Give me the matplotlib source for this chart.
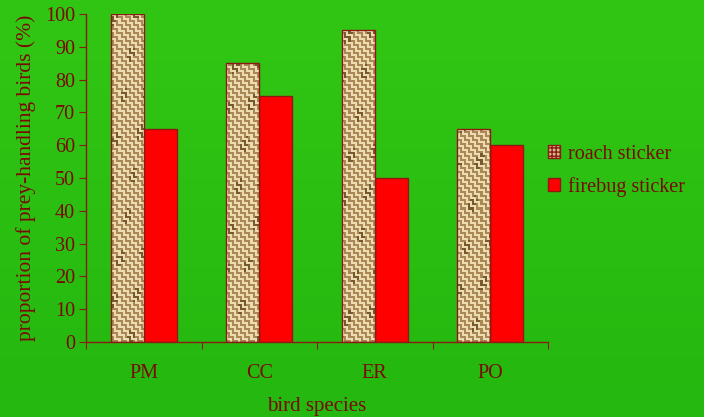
import numpy as np
import matplotlib
matplotlib.use('Agg')
import matplotlib.pyplot as plt
from matplotlib.patches import Patch

# data
species = ['PM', 'CC', 'ER', 'PO']
roach = [100, 85, 95, 65]
firebug = [65, 75, 50, 60]
yticks = list(range(0, 101, 10))

text_col = '#7a0a00'
edge_col = '#8b1a10'

plt.rcParams['font.family'] = ['Liberation Serif', 'DejaVu Serif']
plt.rcParams['font.size'] = 14.5

fig = plt.figure(figsize=(7.04, 4.17), dpi=100)

# green gradient background
bg = fig.add_axes([0, 0, 1, 1], zorder=-10)
grad = np.linspace(0, 1, 256)[:, None]
top = np.array([50, 198, 20]) / 255
bot = np.array([36, 184, 16]) / 255
img = top[None, None, :] * (1 - grad[:, :, None]) + bot[None, None, :] * grad[:, :, None]
bg.imshow(img, aspect='auto', extent=[0, 1, 0, 1])
bg.axis('off')

ax = fig.add_axes([0.1222, 0.1799, 0.6562, 0.7865])
ax.set_facecolor('none')

x = np.arange(len(species))
w = 0.286

bars_r = ax.bar(x - w / 2, roach, w, facecolor='#d2ba8c', edgecolor=edge_col,
                linewidth=1, label='roach sticker', zorder=2)
bars_f = ax.bar(x + w / 2, firebug, w, facecolor='#ff0000', edgecolor=edge_col,
                linewidth=1, label='firebug sticker', zorder=2)

# burlap-like weave texture for the roach bars (about 2 px per cell)
ny, nx = 164, 231
ii, jj = np.indices((ny, nx))
blk = 2
horiz = ((ii // blk) + (jj // blk)) % 2 == 0
stripe = np.where(horiz, ii % 2 == 0, jj % 2 == 0)
shade = 0.5 + 0.5 * np.sin(ii / 5.0 + jj / 3.0) * np.cos(jj / 4.0 - ii / 9.0)
light = np.array([236, 220, 178]) / 255
dark = np.array([170, 135, 85]) / 255
darker = np.array([120, 88, 45]) / 255
tex = np.where(stripe[:, :, None], light, dark)
dk = (shade > 0.85)[:, :, None] & ~stripe[:, :, None]
tex = np.where(dk, darker, tex)
for b in bars_r:
    im = ax.imshow(tex, extent=[-0.5, 3.5, 0, 100], aspect='auto',
                   interpolation='nearest', zorder=2.5)
    im.set_clip_path(b)
    b.set_zorder(3)
    b.set_facecolor('none')

ax.set_xlim(-0.5, 3.5)
ax.set_ylim(0, 100)
ax.set_yticks(yticks)
ax.set_xticks(np.arange(-0.5, 4.0, 1.0))
ax.set_xticklabels([])
ax.set_xticks(x, minor=True)
ax.set_xticklabels(species, minor=True)
ax.tick_params(axis='x', which='minor', length=0, pad=16, colors=text_col, labelsize=14.5)
ax.tick_params(axis='x', which='major', length=5, direction='out', color=edge_col)
ax.tick_params(axis='y', length=5, direction='out', color=edge_col, labelcolor=text_col,
               pad=3, labelsize=14.5)

for s in ['top', 'right']:
    ax.spines[s].set_visible(False)
for s in ['left', 'bottom']:
    ax.spines[s].set_color(edge_col)
    ax.spines[s].set_linewidth(1)

ax.set_ylabel('proportion of prey-handling birds (%)', color=text_col, labelpad=6,
              fontsize=15.5)
ax.set_xlabel('bird species', color=text_col, labelpad=10, fontsize=15)

leg_handles = [Patch(facecolor='#d2ba8c', edgecolor=edge_col, hatch='++++'),
               Patch(facecolor='#ff0000', edgecolor=edge_col)]
leg = fig.legend(leg_handles, ['roach sticker', 'firebug sticker'], frameon=False,
                 loc='center left', bbox_to_anchor=(0.764, 0.59), borderpad=0,
                 handlelength=0.6, handleheight=0.6, handletextpad=0.4,
                 labelspacing=0.65, fontsize=14.5)
for t in leg.get_texts():
    t.set_color(text_col)

fig.savefig('out.png', dpi=100)
